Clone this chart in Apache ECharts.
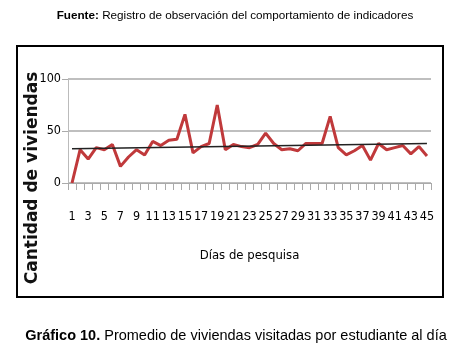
<!DOCTYPE html>
<html>
<head>
<meta charset="utf-8">
<script src="https://cdn.jsdelivr.net/npm/echarts@6/dist/echarts.min.js"></script>
<style>html,body{margin:0;padding:0;background:#fff;}#c{width:463px;height:347px;}</style>
</head>
<body>
<div id="c"></div>
<script>
var days = [];
for (var d = 1; d <= 45; d++) days.push(String(d));
var visits = [0, 32, 23, 34, 32, 37, 16, 25, 32, 27, 40, 36, 41, 42, 66, 29, 35, 38, 75, 32,
              37, 35, 34, 37, 48, 38, 32, 33, 31, 38, 38, 38, 64, 34, 27, 31, 36, 22, 38, 32,
              34, 36, 28, 35, 26];
var trendStart = 33;
var trendEnd = 38;
var yTicks = [0, 50, 100];

var chart = echarts.init(document.getElementById('c'), null, {renderer: 'canvas'});
var narrow = '"Liberation Sans Narrow", "DejaVu Sans Condensed", "Liberation Sans", sans-serif';
chart.setOption({
  animation: false,
  backgroundColor: '#fff',
  title: [
    {
      text: '{b|Fuente:} Registro de observación del comportamiento de indicadores',
      left: 230, textAlign: 'center', top: 5,
      textStyle: {
        fontFamily: 'Liberation Sans, Arial, sans-serif', fontSize: 11.7, fontWeight: 'normal', color: '#000',
        rich: {b: {fontFamily: 'Liberation Sans, Arial, sans-serif', fontSize: 11.7, fontWeight: 'bold', color: '#000'}}
      }
    },
    {
      text: '{b|Gráfico 10.} Promedio de viviendas visitadas por estudiante al día',
      left: 231, textAlign: 'center', top: 323,
      textStyle: {
        fontFamily: 'Liberation Sans, Arial, sans-serif', fontSize: 14.5, fontWeight: 'normal', color: '#000',
        rich: {b: {fontFamily: 'Liberation Sans, Arial, sans-serif', fontSize: 14.5, fontWeight: 'bold', color: '#000'}}
      }
    }
  ],
  graphic: [
    {type: 'rect', shape: {x: 17, y: 46, width: 426, height: 251}, style: {fill: 'none', stroke: '#000', lineWidth: 2}, z: 100},
    {type: 'text', x: 33, y: 178, rotation: Math.PI / 2,
     style: {text: 'Cantidad de viviendas', x: 0, y: 0, align: 'center', verticalAlign: 'middle',
             font: 'bold 17px "DejaVu Sans", sans-serif', fill: '#111'}}
  ],
  grid: {left: 68, right: 32, top: 79, bottom: 164, containLabel: false},
  xAxis: {
    type: 'category',
    data: days,
    boundaryGap: true,
    name: 'Días de pesquisa',
    nameLocation: 'middle',
    nameGap: 66,
    nameTextStyle: {fontFamily: narrow, fontSize: 13, color: '#000'},
    axisLine: {lineStyle: {color: '#aaa', width: 1}},
    axisTick: {show: true, interval: 0, length: 7, lineStyle: {color: '#aaa'}},
    axisLabel: {interval: 1, fontFamily: narrow, fontSize: 12.5, color: '#000', margin: 34, verticalAlign: 'middle'}
  },
  yAxis: {
    type: 'value',
    min: 0, max: 100, interval: 50,
    axisLine: {show: true, lineStyle: {color: '#bbb'}},
    axisTick: {show: true, length: 6, lineStyle: {color: '#aaa'}},
    axisLabel: {fontFamily: narrow, fontSize: 12.5, color: '#000', margin: 7,
      formatter: function (v) { return yTicks.indexOf(v) >= 0 ? String(v) : ''; }},
    splitLine: {show: true, lineStyle: {color: '#aaa', width: 1.5}}
  },
  series: [
    {
      type: 'line',
      data: visits,
      symbol: 'none',
      lineStyle: {color: '#c0393b', width: 3},
      z: 3,
      markLine: {
        silent: true,
        symbol: 'none',
        label: {show: false},
        lineStyle: {color: '#222', width: 1.6, type: 'solid'},
        z: 4,
        data: [[{coord: [days[0], trendStart]}, {coord: [days[days.length - 1], trendEnd]}]]
      }
    }
  ]
});
</script>
</body>
</html>
